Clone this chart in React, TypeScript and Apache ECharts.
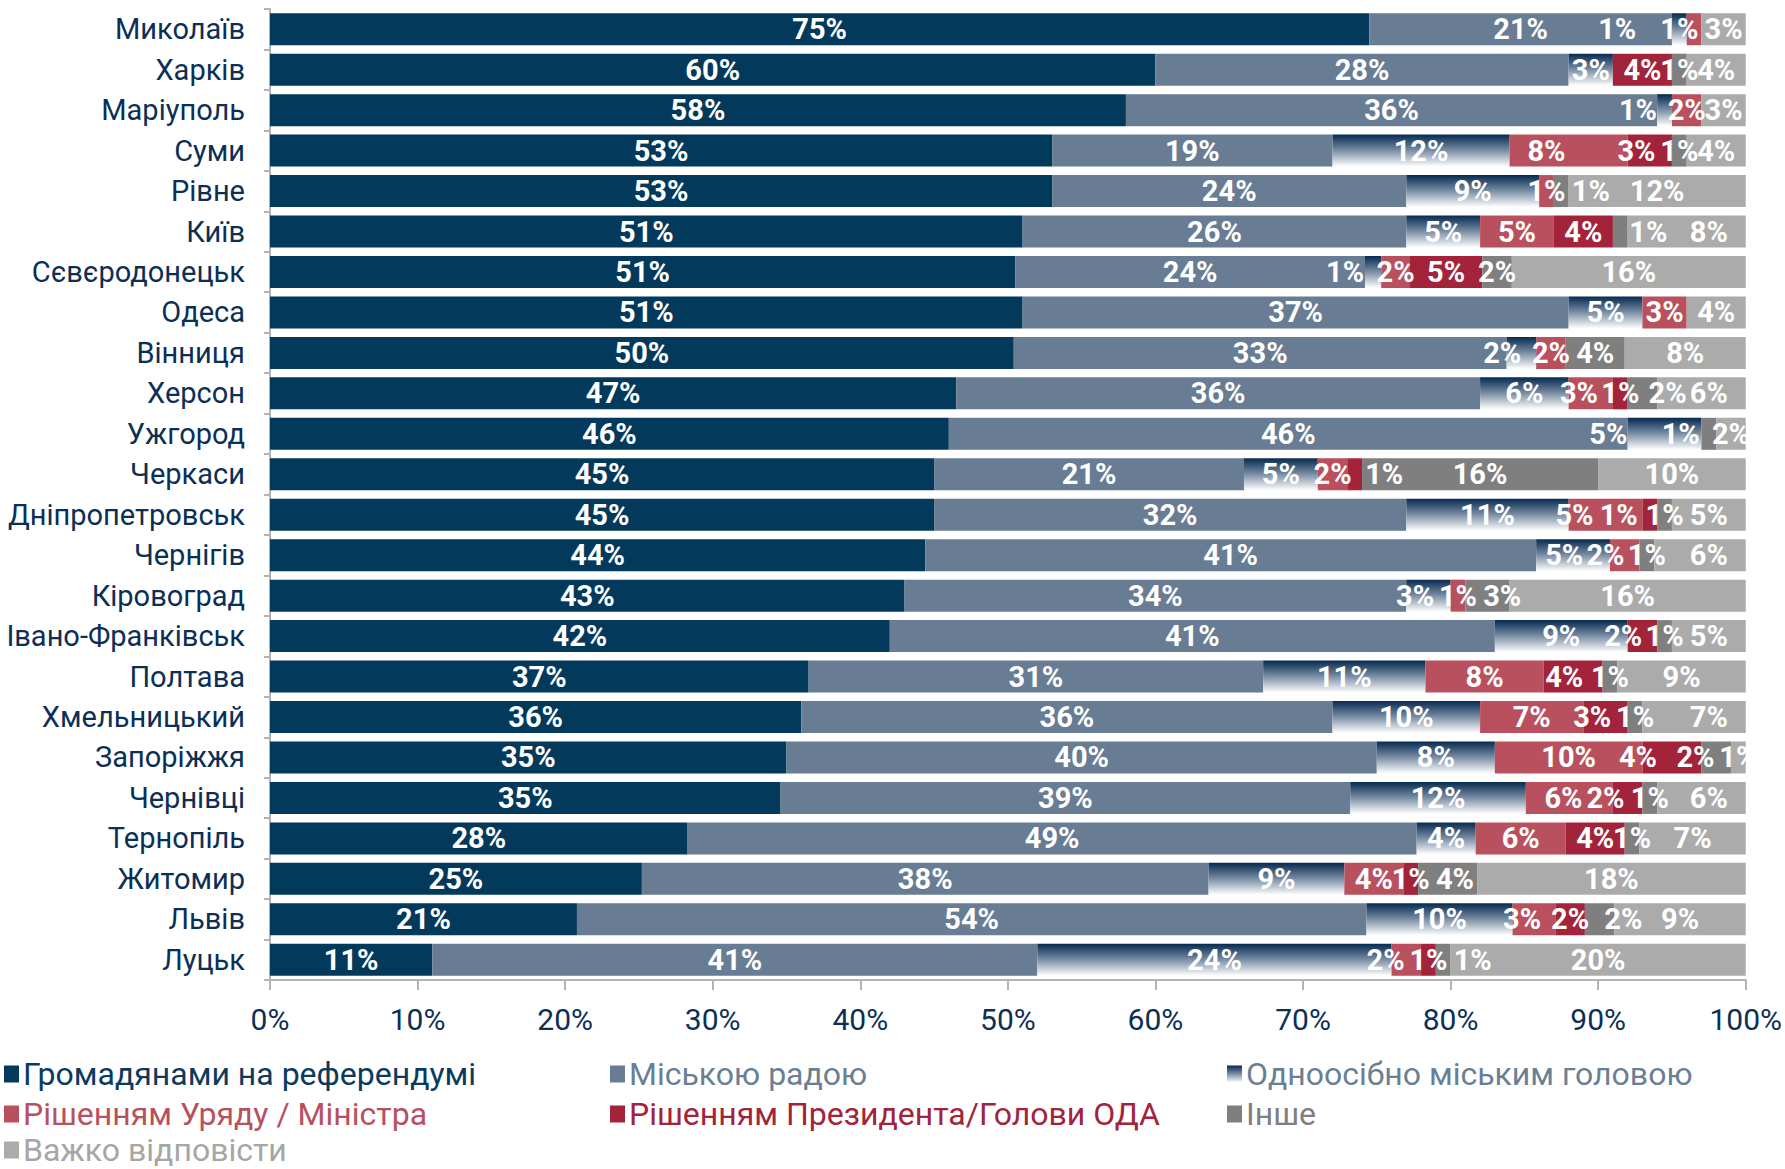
import React, { useEffect, useRef } from "react";
import * as echarts from "echarts";

const cities = [
  "Миколаїв", "Харків", "Маріуполь", "Суми", "Рівне", "Київ", "Сєвєродонецьк", "Одеса",
  "Вінниця", "Херсон", "Ужгород", "Черкаси", "Дніпропетровськ", "Чернігів", "Кіровоград",
  "Івано-Франківськ", "Полтава", "Хмельницький", "Запоріжжя", "Чернівці", "Тернопіль",
  "Житомир", "Львів", "Луцьк",
];

const seriesNames = [
  "Громадянами на референдумі",
  "Міською радою",
  "Одноосібно міським головою",
  "Рішенням Уряду / Міністра",
  "Рішенням Президента/Голови ОДА",
  "Інше",
  "Важко відповісти",
];

const referendum = [74.5, 60, 58, 53, 53, 51, 50.5, 51, 50.4, 46.5, 46, 45, 45, 44.4, 43, 42, 36.5, 36, 35, 34.6, 28.3, 25.2, 20.8, 11];
const cityCouncil = [20.5, 28, 36, 19, 24, 26, 23.7, 37, 33.4, 35.5, 46, 21, 32, 41.4, 34, 41, 30.8, 36, 40, 38.6, 49.4, 38.4, 53.5, 41];
const mayorAlone = [1, 3, 1, 12, 9, 5, 1.1, 5, 2, 6, 5, 5, 11, 5, 3, 9, 11, 10, 8, 11.9, 4, 9.2, 9.9, 24];
const government = [1, 0, 2, 8, 1, 5, 1.95, 3, 2, 3, 0, 2, 5, 2, 1, 0, 8, 7, 10, 5.9, 6.1, 4, 2.9, 2];
const president = [0, 4, 0, 3, 0, 4, 4.9, 0, 0, 1, 0, 1, 1, 0, 0, 2, 4, 3, 4, 2, 4, 1, 2, 1];
const other = [0, 1, 0, 1, 1, 1, 2, 0, 4, 2, 1, 16, 1, 1, 3, 1, 1, 1, 2, 1, 1, 4, 2, 1];
const hardToSay = [3, 4, 3, 4, 12, 8, 15.85, 4, 8.2, 6, 2, 10, 5, 6.2, 16, 5, 8.7, 7, 1, 6, 7.2, 18.2, 8.9, 20];

const xTicks = [0, 10, 20, 30, 40, 50, 60, 70, 80, 90, 100];

// label nudges (in axis percent units) replicating the hand-placed labels of the source
const labelNudges: Record<string, number> = {
  "3-0": -5.2,
  "2-2": -1.8,
  "3-3": -1.5, "4-3": -0.9,
  "5-4": 2,
  "5-5": 1.9, "6-5": 1.5,
  "2-6": -1.9,
  "2-8": -1.3,
  "3-9": -0.8, "5-9": 1.7, "6-9": 0.5,
  "2-10": -3.8, "5-10": -1.9,
  "4-11": 2.0,
  "3-12": -2.1, "4-12": -2.1,
  "2-13": -0.6, "3-13": -1.3, "6-13": 0.6,
  "2-14": -0.9, "5-14": 1,
  "4-15": -1.3,
  "4-16": -0.6,
  "4-17": -0.9, "6-17": 1,
  "4-18": -2.3, "5-18": -1.4,
  "3-19": -0.4, "4-19": -1.5, "6-19": 0.5,
  "5-21": 0.5,
  "3-22": -0.8, "5-22": 1.6,
  "3-23": -1.4, "5-23": 2.0,
};

const FONT = "'Roboto', sans-serif";
const NAVY_TEXT = "#0b2f55";

export default function App() {
  const ref = useRef<HTMLDivElement>(null);

  useEffect(() => {
    document.body.style.margin = "0";
    const chart = echarts.init(ref.current!, undefined, { renderer: "svg" });

    const gridLeft = 270;
    const gridRight = 37;
    const pxPerPct = (1785 - gridLeft - gridRight) / 100;

    const gradient = new echarts.graphic.LinearGradient(0, 0, 0, 1, [
      { offset: 0, color: "#062a50" },
      { offset: 0.45, color: "#6f849c" },
      { offset: 1, color: "#ffffff" },
    ]);

    const colors: any[] = ["#033a5b", "#687d93", gradient, "#b9505e", "#a2233a", "#7f7f7f", "#ababab"];
    const textColors = ["#0b3a5e", "#6a7f94", "#6a7f94", "#b9505e", "#a2233a", "#7f7f7f", "#a6a6a6"];
    const values = [referendum, cityCouncil, mayorAlone, government, president, other, hardToSay];

    const legendPos = [
      { left: 4, top: 1057 },
      { left: 610, top: 1057 },
      { left: 1227, top: 1057 },
      { left: 4, top: 1097 },
      { left: 610, top: 1097 },
      { left: 1227, top: 1097 },
      { left: 4, top: 1133 },
    ];

    const legends = seriesNames.map((name, i) => ({
      show: true,
      left: legendPos[i].left,
      top: legendPos[i].top,
      orient: "horizontal",
      padding: 0,
      itemWidth: 15,
      itemHeight: 17,
      itemGap: 0,
      icon: "rect",
      selectedMode: false,
      data: [{ name, textStyle: { color: textColors[i] } }],
      textStyle: { fontFamily: FONT, fontSize: 32, lineHeight: 34, padding: [0, 0, 0, -1] },
    }));

    chart.setOption({
      animation: false,
      textStyle: { fontFamily: FONT },
      grid: { left: gridLeft, right: gridRight, top: 9, bottom: 189, containLabel: false },
      legend: legends,
      xAxis: {
        type: "value",
        min: xTicks[0],
        max: xTicks[xTicks.length - 1],
        interval: 10,
        splitLine: { show: false },
        axisLine: { show: true, lineStyle: { color: "#b3b3b3", width: 2 } },
        axisTick: { show: true, length: 10, lineStyle: { color: "#b3b3b3", width: 2 } },
        axisLabel: {
          formatter: "{value}%",
          color: NAVY_TEXT,
          fontSize: 30,
          margin: 24,
          fontFamily: FONT,
        },
      },
      yAxis: {
        type: "category",
        inverse: true,
        data: cities,
        axisLine: { show: true, lineStyle: { color: "#b3b3b3", width: 2 } },
        axisTick: { show: true, length: 6, lineStyle: { color: "#b3b3b3", width: 2 } },
        axisLabel: { color: NAVY_TEXT, fontSize: 29, margin: 25, fontFamily: FONT },
      },
      series: seriesNames.map((name, i) => ({
        name,
        type: "bar",
        stack: "total",
        barWidth: 32,
        data: values[i].map((v, j) => {
          const n = labelNudges[`${i}-${j}`];
          return n ? { value: v, label: { offset: [n * pxPerPct, 0] } } : v;
        }),
        itemStyle: { color: colors[i] },
        label: {
          show: true,
          position: "inside",
          color: "#ffffff",
          fontWeight: "bold",
          fontSize: 29,
          fontFamily: FONT,
          formatter: (p: any) => (p.value > 0 ? Math.round(p.value) + "%" : ""),
        },
      })),
    });

    return () => chart.dispose();
  }, []);

  return (
    <div
      ref={ref}
      style={{ position: "fixed", left: 0, top: 0, width: "1785px", height: "1169px", background: "#ffffff" }}
    />
  );
}
